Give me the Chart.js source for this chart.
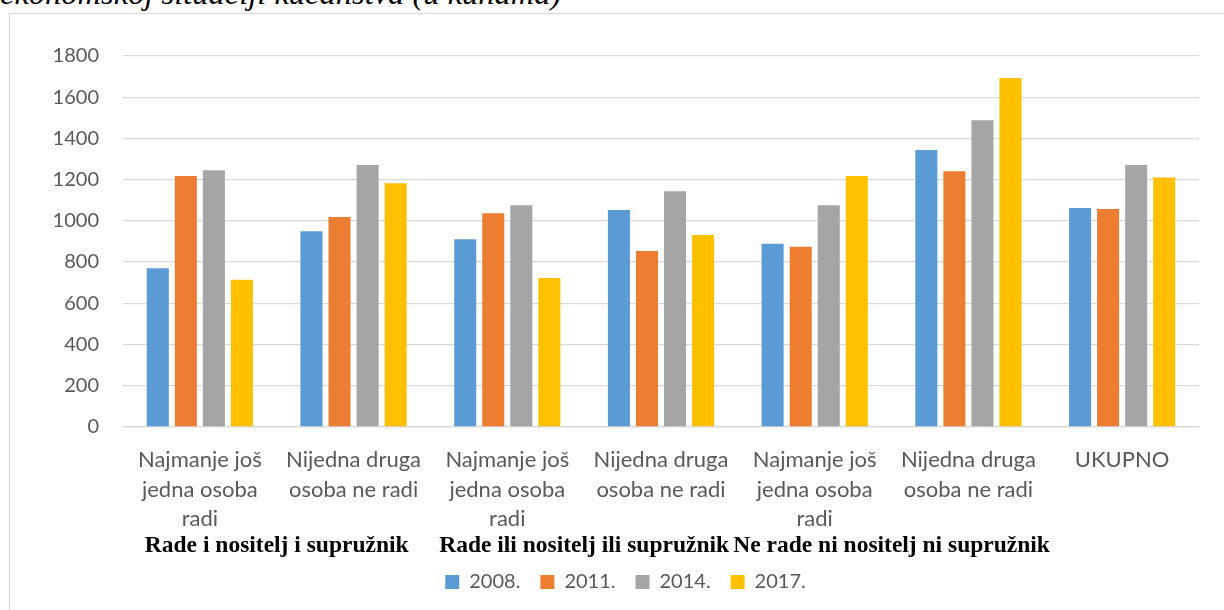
<!DOCTYPE html>
<html>
<head>
<meta charset="utf-8">
<script src="https://cdn.jsdelivr.net/npm/chart.js@4"></script>
<style>
body { margin:0; background:#fff; width:1224px; height:610px; overflow:hidden; position:relative; }
#caption { position:absolute; left:0; top:-23px; font:italic 32.5px/32px "Liberation Serif", serif; color:#000; white-space:nowrap; }
#frame { position:absolute; left:9px; top:13px; width:1400px; height:800px; border:1px solid #d9d9d9; }
#wrap { position:absolute; left:0; top:0; width:1224px; height:610px; }
</style>
</head>
<body>
<div id="caption">ekonomskoj situaciji kućanstva (u kunama)</div>
<div id="frame"></div>
<div id="wrap"><canvas id="chart"></canvas></div>
<script>
// data
var categories = [
	["Najmanje još", "jedna osoba", "radi"],
	["Nijedna druga", "osoba ne radi"],
	["Najmanje još", "jedna osoba", "radi"],
	["Nijedna druga", "osoba ne radi"],
	["Najmanje još", "jedna osoba", "radi"],
	["Nijedna druga", "osoba ne radi"],
	["UKUPNO"]
];
// each group covers two categories, starting at this category index
var groups = ["Rade i nositelj i supružnik", "Rade ili nositelj ili supružnik", "Ne rade ni nositelj ni supružnik"];
var groupStart = [0, 2, 4];
var years = ["2008.", "2011.", "2014.", "2017."];
var v2008 = [770, 950, 911, 1052, 889, 1344, 1062];
var v2011 = [1217, 1019, 1037, 853, 874, 1241, 1058];
var v2014 = [1246, 1271, 1076, 1144, 1076, 1488, 1271];
var v2017 = [714, 1183, 722, 931, 1217, 1693, 1210];
var yTicks = [0, 200, 400, 600, 800, 1000, 1200, 1400, 1600, 1800];

var colors = ["#5B9BD5", "#ED7D31", "#A5A5A5", "#FFC000"];
var series = [v2008, v2011, v2014, v2017];
var gray = "#595959";

var datasets = [];
for (var i = 0; i < series.length; i++) {
	datasets.push({
		label: years[i],
		data: series[i],
		backgroundColor: colors[i],
		barPercentage: 0.786,
		categoryPercentage: 0.73
	});
}

// bold group captions under the category labels, centred on the pair
var groupLabels = {
	id: "groupLabels",
	afterDraw: function(chart) {
		var x = chart.scales.x;
		var c = chart.ctx;
		c.save();
		c.font = "bold 23.5px 'Liberation Serif'";
		c.fillStyle = "#000";
		c.textAlign = "center";
		c.textBaseline = "middle";
		for (var g = 0; g < groups.length; g++) {
			var a = x.getPixelForValue(groupStart[g]);
			var b = x.getPixelForValue(groupStart[g] + 1);
			c.fillText(groups[g], (a + b) / 2, x.top + 119);
		}
		c.restore();
	}
};

var ctx = document.getElementById("chart").getContext("2d");
new Chart(ctx, {
	type: "bar",
	data: { labels: categories, datasets: datasets },
	plugins: [groupLabels],
	options: {
		responsive: true,
		maintainAspectRatio: false,
		animation: false,
		// left padding only shifts the legend centre, y axis width is pinned below
		layout: { padding: { left: 52, right: 25, top: 56, bottom: 8 } },
		plugins: {
			tooltip: { enabled: false },
			legend: {
				position: "bottom",
				labels: {
					boxWidth: 14, boxHeight: 14, padding: 20,
					color: gray,
					font: { family: "Lato", size: 20 }
				}
			}
		},
		scales: {
			y: {
				min: 0, max: 1800,
				afterBuildTicks: function(s) { s.ticks = yTicks.map(function(v){ return {value: v}; }); },
				afterFit: function(s) { s.width = 71; },
				border: { display: false },
				grid: { color: "#d9d9d9", lineWidth: 1.3, drawTicks: false },
				ticks: { color: gray, padding: 24, font: { family: "Lato", size: 20 },
					callback: function(v) { return String(v); } }
			},
			x: {
				border: { color: "#d9d9d9", width: 1.3 },
				grid: { display: false, drawTicks: false },
				ticks: { color: gray, padding: 19, maxRotation: 0, autoSkip: false,
					font: { family: "Lato", size: 22, lineHeight: 1.32 } }
			}
		}
	}
});
</script>
</body>
</html>
